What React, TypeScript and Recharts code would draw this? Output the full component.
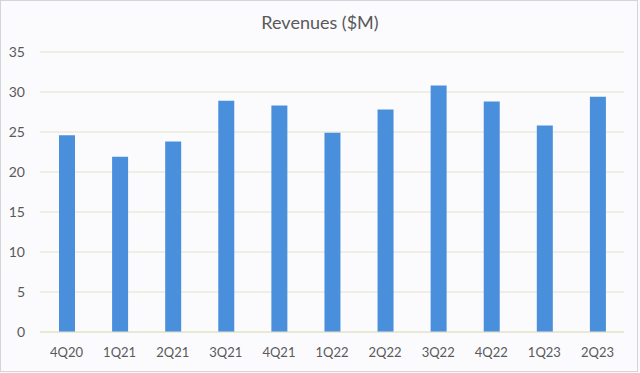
import React from "react";
import { BarChart, Bar, XAxis, YAxis, CartesianGrid } from "recharts";

const quarters = ["4Q20", "1Q21", "2Q21", "3Q21", "4Q21", "1Q22", "2Q22", "3Q22", "4Q22", "1Q23", "2Q23"];
const revenues = [24.6, 21.9, 23.8, 28.9, 28.3, 24.9, 27.8, 30.8, 28.8, 25.8, 29.4];
const yTicks = [0, 5, 10, 15, 20, 25, 30, 35];

const data = quarters.map((q, i) => ({ quarter: q, revenue: revenues[i] }));

const font = "Lato, 'Open Sans', sans-serif";
const textColor = "#595959";

export default function App() {
  return (
    <div
      style={{
        position: "absolute",
        left: 0,
        top: 0,
        width: 640,
        height: 373,
        background: "#fbfbfe",
        fontFamily: font,
      }}
    >
      <div
        style={{
          position: "absolute",
          left: 0,
          top: 0,
          width: 636,
          height: 370,
          border: "1px solid #d4d4dc",
        }}
      />
      <div
        style={{
          position: "absolute",
          top: 11,
          left: 0,
          width: 640,
          textAlign: "center",
          fontSize: 18,
          color: textColor,
        }}
      >
        Revenues ($M)
      </div>
      <div style={{ position: "absolute", left: 0, top: 0 }}>
        <BarChart
          width={640}
          height={373}
          data={data}
          margin={{ top: 52, right: 16, bottom: 11, left: 0 }}
          barSize={16}
        >
          <CartesianGrid vertical={false} stroke="#e4e2c6" />
          <XAxis
            dataKey="quarter"
            axisLine={{ stroke: "#e4e2c6" }}
            tickLine={false}
            tickSize={0}
            tickMargin={16}
            height={30}
            interval={0}
            tick={{ fill: textColor, fontSize: 13, fontFamily: font }}
          />
          <YAxis
            domain={[0, 35]}
            ticks={yTicks}
            axisLine={false}
            tickLine={false}
            tickSize={0}
            tickMargin={15}
            width={40}
            tick={{ fill: textColor, fontSize: 14, fontFamily: font }}
          />
          <Bar dataKey="revenue" fill="#4a8fdc" isAnimationActive={false} />
        </BarChart>
      </div>
    </div>
  );
}
